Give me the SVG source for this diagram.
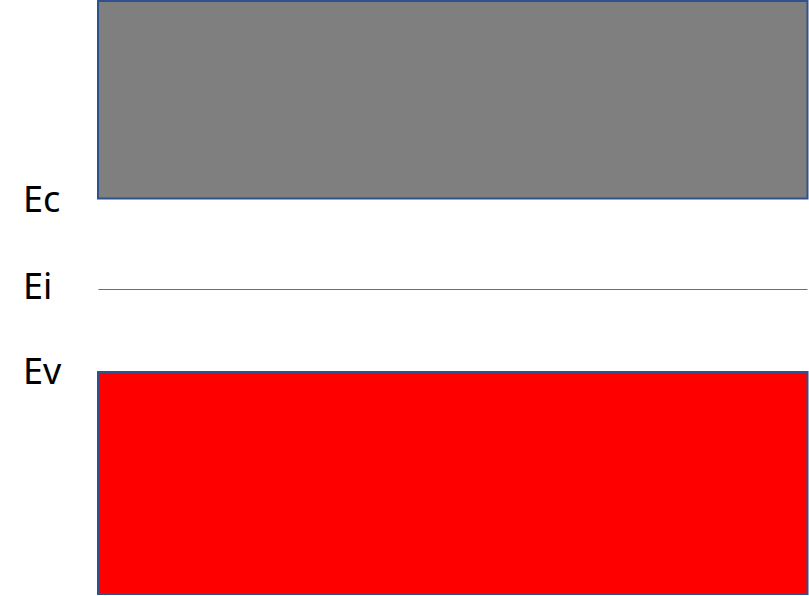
<svg xmlns="http://www.w3.org/2000/svg" width="809" height="596" viewBox="0 0 809 596">
<style>
.lbl{font-family:"Noto Sans","Open Sans","Liberation Sans",sans-serif;font-size:36px;fill:#000}
.band{stroke:#2F528F;stroke-width:2}
</style>
<rect width="809" height="596" fill="#fff"/>
<g id="conduction-band"><rect class="band" x="98" y="1" width="709.5" height="197.5" fill="#7F7F7F"/></g>
<g id="valence-band"><rect class="band" x="98" y="372" width="709.5" height="222" fill="#FF0000"/></g>
<g id="connectors"><line id="Ei-line" x1="98.5" y1="289.5" x2="807.5" y2="289.5" stroke="#4472C4" stroke-width="1"/></g>
<g id="labels">
<text class="lbl" x="23" y="212">Ec</text>
<text class="lbl" x="23" y="299">Ei</text>
<text class="lbl" x="23" y="384">Ev</text>
</g>
</svg>
